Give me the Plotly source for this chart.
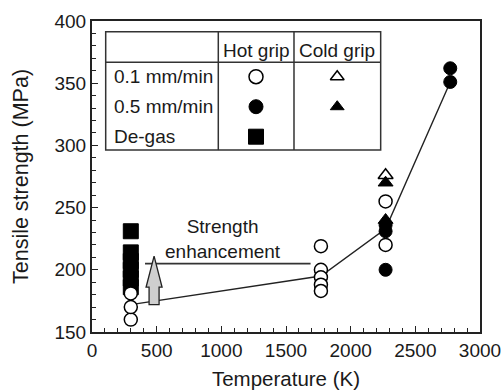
import plotly.graph_objects as go

# Tensile strength vs. test temperature
# hot grip, 0.1 mm/min (open circles)
hot_slow_T = [300, 300, 300, 1770, 1770, 1770, 1770, 1770, 2270, 2270]
hot_slow_S = [160, 170, 181, 219, 200, 194, 188, 183, 255, 220]
# hot grip, 0.5 mm/min (filled circles)
hot_fast_T = [2270, 2270, 2270, 2770, 2770]
hot_fast_S = [236, 231, 200, 362, 351]
# cold grip, 0.1 mm/min (open triangles)
cold_slow_T = [2270]
cold_slow_S = [276]
# cold grip, 0.5 mm/min (filled triangles)
cold_fast_T = [2270, 2270]
cold_fast_S = [270, 240]
# de-gassed specimens (filled squares)
degas_T = [300, 300, 300, 300, 300, 300]
degas_S = [231, 214, 207, 200, 193, 186]
# trend line through the hot-grip data
trend_T = [300, 1770, 2270, 2770]
trend_S = [172, 195, 233, 351]
# strength-enhancement marker: reference level and arrow
enh_level = 205
enh_T = [410, 1690]
arrow_T = 480
arrow_from, arrow_to, arrow_head = 172, 211, 186

x_ticks = [0, 500, 1000, 1500, 2000, 2500, 3000]
y_ticks = [150, 200, 250, 300, 350, 400]

FONT = "Liberation Sans, Arial, sans-serif"
INK = "#1a1a1a"

fig = go.Figure()

fig.add_trace(go.Scatter(x=trend_T, y=trend_S, mode="lines",
                         line=dict(color="#222", width=1.4), hoverinfo="skip"))
fig.add_trace(go.Scatter(x=enh_T, y=[enh_level, enh_level], mode="lines",
                         line=dict(color="#333", width=1.6), hoverinfo="skip"))

open_m = dict(color="white", line=dict(color="black", width=1.5))
fill_m = dict(color="black", line=dict(color="black", width=1))

fig.add_trace(go.Scatter(x=degas_T, y=degas_S, mode="markers",
                         marker=dict(symbol="square", size=15, **fill_m)))
fig.add_trace(go.Scatter(x=hot_slow_T, y=hot_slow_S, mode="markers",
                         marker=dict(symbol="circle", size=13, **open_m)))
fig.add_trace(go.Scatter(x=cold_slow_T, y=cold_slow_S, mode="markers",
                         marker=dict(symbol="triangle-up", size=13, **open_m)))
fig.add_trace(go.Scatter(x=cold_fast_T, y=cold_fast_S, mode="markers",
                         marker=dict(symbol="triangle-up", size=13, **fill_m)))
fig.add_trace(go.Scatter(x=hot_fast_T, y=hot_fast_S, mode="markers",
                         marker=dict(symbol="circle", size=13, **fill_m)))

# ---- legend table (drawn on an overlay axis spanning the plot area) ----
leg_rows = ["0.1 mm/min", "0.5 mm/min", "De-gas"]
leg_cols = ["Hot grip", "Cold grip"]
box_x = [0.0353, 0.3255, 0.5206, 0.744]   # left edge, column dividers, right edge
box_y = [0.585, 0.867, 0.9656]            # bottom, header divider, top
row_y = [0.821, 0.7244, 0.628]
head_y = 0.9045
col_x = [0.4227, 0.632]

leg_marks = [
    (col_x[0], row_y[0], "circle", 14, open_m),
    (col_x[0], row_y[1], "circle", 14, fill_m),
    (col_x[0], row_y[2], "square", 15, fill_m),
    (col_x[1], row_y[0], "triangle-up", 12, open_m),
    (col_x[1], row_y[1], "triangle-up", 12, fill_m),
]
for mx, my, sym, sz, style in leg_marks:
    fig.add_trace(go.Scatter(x=[mx], y=[my], mode="markers", xaxis="x2", yaxis="y2",
                             marker=dict(symbol=sym, size=sz, **style), hoverinfo="skip"))

tbl_line = dict(color="#333", width=1.5)
shapes = [
    dict(type="rect", xref="paper", yref="paper", x0=box_x[0], x1=box_x[3],
         y0=box_y[0], y1=box_y[2], line=tbl_line),
    dict(type="line", xref="paper", yref="paper", x0=box_x[0], x1=box_x[3],
         y0=box_y[1], y1=box_y[1], line=tbl_line),
    dict(type="line", xref="paper", yref="paper", x0=box_x[1], x1=box_x[1],
         y0=box_y[0], y1=box_y[2], line=tbl_line),
    dict(type="line", xref="paper", yref="paper", x0=box_x[2], x1=box_x[2],
         y0=box_y[0], y1=box_y[2], line=tbl_line),
]

# block arrow: x in pixels around its anchor, y in data units
hw_shaft, hw_head = 5, 8
arrow_path = (f"M {-hw_shaft},{arrow_from} L {hw_shaft},{arrow_from} "
              f"L {hw_shaft},{arrow_head} L {hw_head},{arrow_head} L 0,{arrow_to} "
              f"L {-hw_head},{arrow_head} L {-hw_shaft},{arrow_head} Z")
shapes.append(dict(type="path", xref="x", yref="y", xsizemode="pixel", xanchor=arrow_T,
                   path=arrow_path, fillcolor="#cfcfcf", line=dict(color="#222", width=1.3)))

annotations = []
for txt, ry in zip(leg_rows, row_y):
    annotations.append(dict(xref="paper", yref="paper", x=0.052, y=ry, text=txt,
                            showarrow=False, xanchor="left", yanchor="middle",
                            font=dict(family=FONT, size=19, color=INK)))
for txt, cx in zip(leg_cols, col_x):
    annotations.append(dict(xref="paper", yref="paper", x=cx, y=head_y, text=txt,
                            showarrow=False, xanchor="center", yanchor="middle",
                            font=dict(family=FONT, size=19, color=INK)))
annotations.append(dict(xref="x", yref="y", x=1015, y=225, text="Strength<br>enhancement",
                        showarrow=False, xanchor="center", yanchor="middle",
                        font=dict(family=FONT, size=19, color=INK)))

axis_common = dict(showline=True, linecolor="#222", linewidth=2, mirror=True,
                   ticks="inside", ticklen=6, tickwidth=1.3, tickcolor="#222",
                   showgrid=False, zeroline=False, automargin=False,
                   tickfont=dict(family=FONT, size=19, color=INK))

fig.update_layout(
    width=504, height=390,
    margin=dict(l=92, r=24, t=21, b=58),
    paper_bgcolor="white", plot_bgcolor="white",
    showlegend=False,
    shapes=shapes, annotations=annotations,
    xaxis=dict(range=[0, 3000], tickvals=x_ticks,
               minor=dict(dtick=100, ticks="inside", ticklen=4, tickcolor="#222"),
               title=dict(text="Temperature (K)", font=dict(family=FONT, size=20.5, color=INK),
                          standoff=17),
               **axis_common),
    yaxis=dict(range=[150, 400], tickvals=y_ticks,
               minor=dict(dtick=10, ticks="inside", ticklen=4, tickcolor="#222"),
               title=dict(text="Tensile strength (MPa)", font=dict(family=FONT, size=21.5, color=INK),
                          standoff=20),
               **axis_common),
    xaxis2=dict(range=[0, 1], overlaying="x", visible=False, fixedrange=True),
    yaxis2=dict(range=[0, 1], overlaying="y", visible=False, fixedrange=True),
)

fig.write_html("out.html")
